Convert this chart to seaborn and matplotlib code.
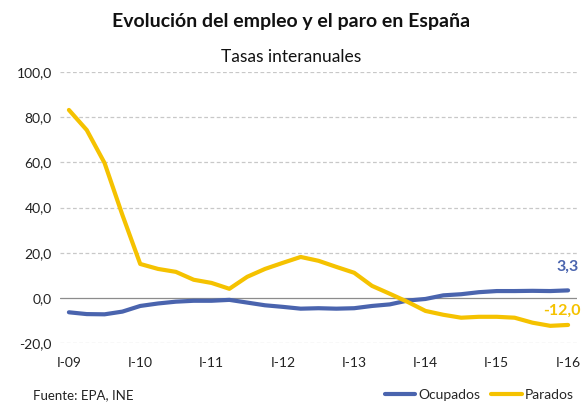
import numpy as np
import pandas as pd
import matplotlib
matplotlib.use("Agg")
import matplotlib.pyplot as plt
from matplotlib.ticker import FuncFormatter
from matplotlib.lines import Line2D
import seaborn as sns

quarters = [f"{q}-{y:02d}" for y in range(9, 17) for q in ["I", "II", "III", "IV"]][:29]
ocupados = [-6.4, -7.2, -7.3, -6.1, -3.6, -2.5, -1.7, -1.3, -1.3, -0.9, -2.1, -3.3,
            -4.0, -4.8, -4.6, -4.8, -4.6, -3.6, -2.9, -1.2, -0.5, 1.1, 1.6, 2.5,
            3.0, 3.0, 3.1, 3.0, 3.3]
parados = [83.2, 74.3, 59.7, 36.7, 15.0, 12.8, 11.5, 8.0, 6.6, 4.0, 9.3, 12.8,
           15.5, 18.1, 16.4, 13.7, 11.1, 5.3, 1.8, -1.8, -5.8, -7.5, -8.8, -8.4,
           -8.4, -8.8, -11.0, -12.4, -12.0]
tick_labels = ["I-09", "I-10", "I-11", "I-12", "I-13", "I-14", "I-15", "I-16"]

BLUE = "#4A64AE"
YELLOW = "#F5C200"

sns.set_theme(style="white")
plt.rcParams["font.family"] = ["Lato", "DejaVu Sans"]

n = len(quarters)
df = pd.DataFrame({
    "idx": list(range(n)) * 2,
    "valor": ocupados + parados,
    "serie": ["Ocupados"] * n + ["Parados"] * n,
})

fig = plt.figure(figsize=(5.82, 4.03), dpi=100)
ax = fig.add_axes([60 / 582, 1 - 343 / 403, (577 - 60) / 582, (343 - 72) / 403])

for yv in [-20, 20, 40, 60, 80, 100]:
    ax.axhline(yv, color="#c8c8c8", lw=0.9, ls=(0, (3, 2)), zorder=0)
ax.axhline(0, color="#8c8c8c", lw=0.9, zorder=1)

sns.lineplot(data=df, x="idx", y="valor", hue="serie",
             palette={"Ocupados": BLUE, "Parados": YELLOW},
             linewidth=3, ax=ax, legend=False, zorder=3)

ax.set_xlim(-0.5, n - 0.5)
ax.set_ylim(-20, 100)
ax.set_yticks([-20, 0, 20, 40, 60, 80, 100])
ax.yaxis.set_major_formatter(FuncFormatter(lambda v, p: f"{v:.1f}".replace(".", ",")))
ax.set_xticks(range(0, n, 4))
ax.set_xticklabels(tick_labels)
ax.tick_params(axis="both", length=0, labelsize=10, colors="#222222")
ax.tick_params(axis="x", pad=10)
ax.tick_params(axis="y", pad=6)
ax.set_xlabel("")
ax.set_ylabel("")
for s in ax.spines.values():
    s.set_visible(False)

ax.annotate(f"{ocupados[-1]:.1f}".replace(".", ","), (n - 1, ocupados[-1]),
            xytext=(0, 12), textcoords="offset points", ha="center", va="bottom",
            color=BLUE, fontweight="bold", fontsize=11.5)
ax.annotate(f"{parados[-1]:.1f}".replace(".", ","), (n - 1, parados[-1]),
            xytext=(9, 5), textcoords="offset points", ha="right", va="bottom",
            color=YELLOW, fontweight="bold", fontsize=11.5)

fig.text(0.5, 1 - 22 / 403, "Evolución del empleo y el paro en España",
         ha="center", va="center", fontsize=14, fontweight="bold", color="#111111")
fig.text(0.5, 1 - 57 / 403, "Tasas interanuales", ha="center", va="center",
         fontsize=12.5, color="#111111")
fig.text(33 / 582, 1 - 395 / 403, "Fuente: EPA, INE", ha="left", va="center",
         fontsize=9.5, color="#222222")

handles = [Line2D([0], [0], color=BLUE, lw=3), Line2D([0], [0], color=YELLOW, lw=3)]
fig.legend(handles, ["Ocupados", "Parados"], loc="center right",
           bbox_to_anchor=(1.0, 1 - 395 / 403), ncol=2, frameon=False,
           fontsize=10, handlelength=2.2, handletextpad=0.2, columnspacing=0.8,
           borderaxespad=0.2)

fig.savefig("out.png", dpi=100)
